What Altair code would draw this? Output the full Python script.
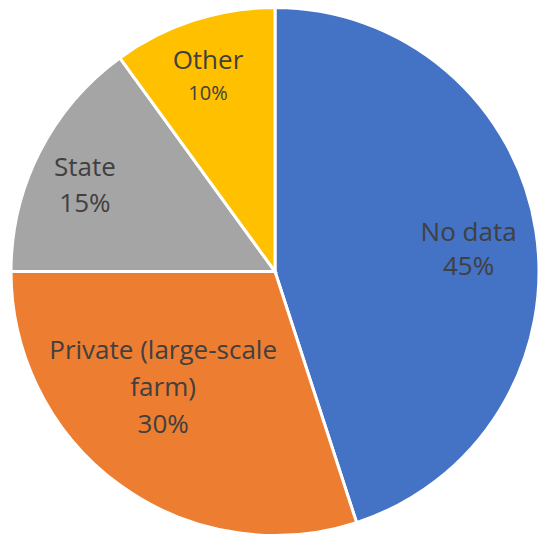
import altair as alt
import pandas as pd

categories = ["No data", "Private (large-scale farm)", "State", "Other"]
values = [45, 30, 15, 10]
name_lines = ["No data", "Private (large-scale\nfarm)", "State", "Other"]
colors = ["#4472C4", "#ED7D31", "#A5A5A5", "#FFC000"]

df = pd.DataFrame({
    "category": categories,
    "value": values,
    "idx": list(range(len(categories))),
    "name": name_lines,
    "pct": [f"{v}%" for v in values],
})

FONT = "Open Sans"
TXT = "#404040"

base = alt.Chart(df).encode(
    theta=alt.Theta("value:Q", stack=True),
    order=alt.Order("idx:Q"),
)

pie = base.mark_arc(radius=264, stroke="white", strokeWidth=3).encode(
    color=alt.Color("category:N", scale=alt.Scale(domain=categories, range=colors), legend=None)
)


def label_layer(cat, field, radius, dx, dy, size):
    return base.transform_calculate(
        t=f"datum.category == '{cat}' ? datum.{field} : ''"
    ).mark_text(
        radius=radius, dx=dx, dy=dy, fontSize=size, font=FONT, color=TXT,
        lineBreak="\n", lineHeight=36, align="center", baseline="middle",
    ).encode(text="t:N")


def combo_layer(cat, radius, dx, dy, size, lh):
    return base.transform_calculate(
        t=f"datum.category == '{cat}' ? datum.name + '\\n' + datum.pct : ''"
    ).mark_text(
        radius=radius, dx=dx, dy=dy, fontSize=size, font=FONT, color=TXT,
        lineBreak="\n", lineHeight=lh, align="center", baseline="middle",
    ).encode(text="t:N")


layers = [
    pie,
    combo_layer("No data", 195, 1, -8, 26, 34),
    combo_layer("Private (large-scale farm)", 175, -9, -62, 26, 37),
    combo_layer("State", 210, -3, -8, 26, 36),
    label_layer("Other", "name", 204, -4, -16, 26),
    label_layer("Other", "pct", 204, -4, 17, 20),
]

chart = alt.layer(*layers).properties(
    width=534, height=527, padding=0,
    autosize=alt.AutoSizeParams(type="fit", contains="padding"),
).configure_view(stroke=None)

chart.save("out.html", embed_options={"renderer": "svg", "actions": False})
